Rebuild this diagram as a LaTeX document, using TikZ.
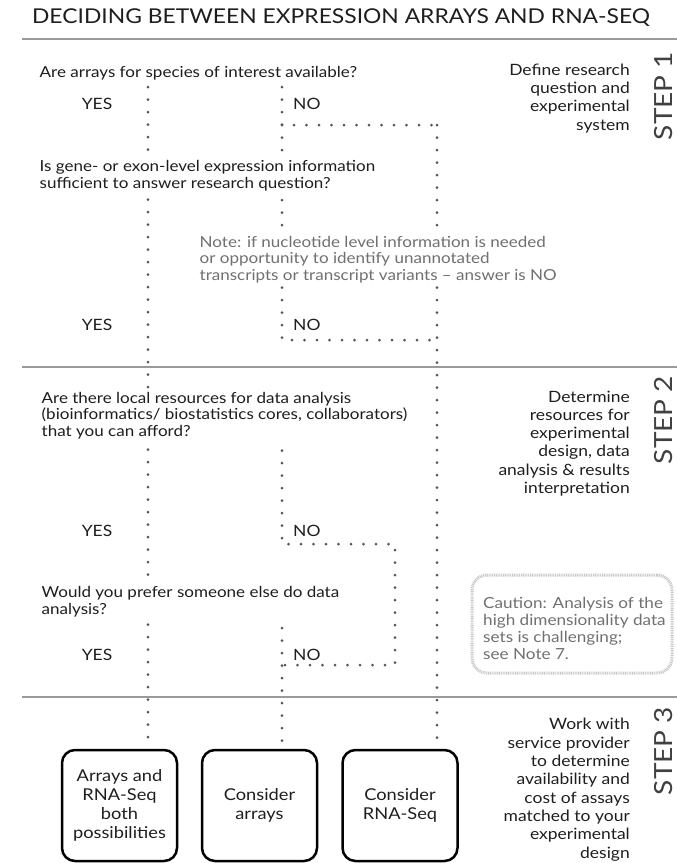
\documentclass[tikz,border=0pt]{standalone}
\usepackage{fontspec}
\setmainfont{Lato}[FakeStretch=1.12]
\definecolor{txt}{HTML}{1E1E1E}
\definecolor{rulec}{HTML}{9A9A9A}
\definecolor{dotc}{HTML}{555555}
\definecolor{notec}{HTML}{707070}
\definecolor{cautc}{HTML}{C8C8C8}
\begin{document}
\begin{tikzpicture}[x=1pt,y=-1pt,
  every node/.style={inner sep=0pt,text=txt},
  qtext/.style={font=\fontsize{15.2}{16.5}\selectfont,align=left,anchor=base west,fill=white,inner sep=1.5pt},
  notetext/.style={font=\fontsize{15.2}{16.5}\selectfont,align=left,anchor=base west,fill=white,inner sep=1.5pt,text=notec},
  yn/.style={font=\fontsize{15.6}{16}\selectfont,anchor=base},
  side/.style={font=\fontsize{15.6}{18.3}\selectfont,align=right,anchor=base east},
  steplabel/.style={font=\fontsize{25}{26}\selectfont,rotate=90,anchor=center,text=txt!85},
  outcome/.style={draw=black,line width=2.5pt,rounded corners=13pt,minimum width=115pt,minimum height=111pt,font=\fontsize{16.3}{19}\selectfont,align=center},
  dotline/.style={draw=dotc,line width=3pt,line cap=round,dash pattern=on 0pt off 12.5pt},
  rulel/.style={draw=rulec,line width=2pt}
]
\useasboundingbox (0,0) rectangle (677,863);

% coordinates of dotted paths
\coordinate (Ltop) at (148,87);
\coordinate (Mtop) at (282,87);
\coordinate (Mturn1) at (282,125);
\coordinate (Rtop) at (437,125);
\coordinate (Mend1) at (282,340);
\coordinate (Rj1) at (437,340);
\coordinate (M2top) at (282,438);
\coordinate (M2turn) at (282,544);
\coordinate (Sturn1) at (395,544);
\coordinate (Sturn2) at (395,665);
\coordinate (Mj2) at (282,665);
\coordinate (M3top) at (282,603);

% outcome boxes
\node[outcome] (both) at (119.5,805.5) {Arrays and\\RNA-Seq\\both\\possibilities};
\node[outcome] (arr) at (259.5,805.5) {Consider\\arrays};
\node[outcome] (rna) at (400,805.5) {Consider\\RNA-Seq};

% dotted flow lines
\draw[dotline] (Ltop) -- (Ltop |- both.north);
\draw[dotline] (Mtop) -- (Mturn1) -- (Rtop);
\draw[dotline] (Mturn1) -- (Mend1) -- (Rj1);
\draw[dotline] (Rtop) -- (Rtop |- rna.north);
\draw[dotline] (M2top) -- (M2turn) -- (Sturn1) -- (Sturn2) -- (Mj2);
\draw[dotline] (M3top) -- (M3top |- arr.north);

% gray step rules
\coordinate (r1a) at (22,39); \coordinate (r1b) at (677,39);
\coordinate (r2a) at (22,367); \coordinate (r2b) at (677,367);
\coordinate (r3a) at (22,697); \coordinate (r3b) at (677,697);
\draw[rulel] (r1a) -- (r1b);
\draw[rulel] (r2a) -- (r2b);
\draw[rulel] (r3a) -- (r3b);

% title
\node[font=\fontsize{20.4}{22}\selectfont,anchor=base] (title) at (341,23.5) {DECIDING BETWEEN EXPRESSION ARRAYS AND RNA-SEQ};

% questions (base anchor = baseline of the last line)
\node[qtext] (q1) at (38,77) {Are arrays for species of interest available?};
\node[qtext] (q2) at (38,188) {Is gene- or exon-level expression information\\sufficient to answer research question?};
\node[notetext] (note) at (198,280) {Note: if nucleotide level information is needed\\or opportunity to identify unannotated\\transcripts or transcript variants -- answer is NO};
\node[qtext] (q3) at (40,436) {Are there local resources for data analysis\\(bioinformatics/ biostatistics cores, collaborators)\\that you can afford?};
\node[qtext] (q4) at (40,614) {Would you prefer someone else do data\\analysis?};

% yes / no
\node[yn] (y1) at (97,109) {YES};
\node[yn,anchor=base west] (n1) at (293,109) {NO};
\node[yn] (y2) at (97,330.5) {YES};
\node[yn,anchor=base west] (n2) at (293,330.5) {NO};
\node[yn] (y3) at (97,536.5) {YES};
\node[yn,anchor=base west] (n3) at (293,536.5) {NO};
\node[yn] (y4) at (97,660.5) {YES};
\node[yn,anchor=base west] (n4) at (293,660.5) {NO};

% side descriptions
\node[side] (s1) at (630,130) {Define research\\question and\\experimental\\system};
\node[side] (s2) at (630,493.5) {Determine\\resources for\\experimental\\design, data\\analysis \& results\\interpretation};
\node[side] (s3) at (630,858) {Work with\\service provider\\to determine\\availability and\\cost of assays\\matched to your\\experimental\\design};

% step labels
\node[steplabel] (st1) at (664,96) {STEP 1};
\node[steplabel] (st2) at (664,420) {STEP 2};
\node[steplabel] (st3) at (664,751) {STEP 3};

% caution box
\node[draw=cautc,line width=3pt,dash pattern=on 1pt off 0.8pt,rounded corners=15pt,minimum width=200pt,minimum height=98pt] (caut) at (572,624) {};
\node[font=\fontsize{15.3}{17}\selectfont,align=left,anchor=base west,text=notec] (cauttext) at (483,659) {Caution: Analysis of the\\high dimensionality data\\sets is challenging;\\see Note 7.};
\end{tikzpicture}
\end{document}
